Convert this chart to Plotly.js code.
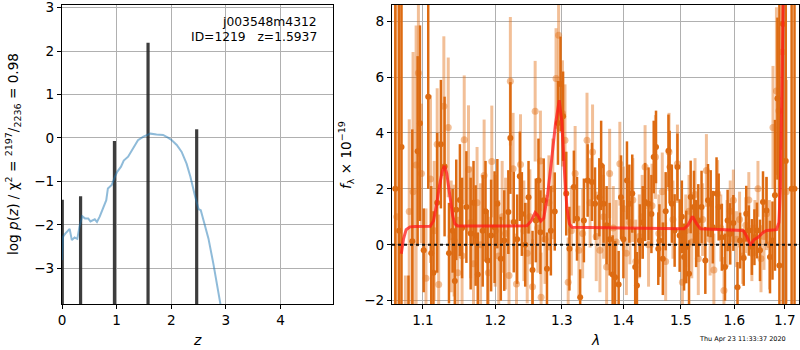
<!DOCTYPE html>
<html><head><meta charset="utf-8">
<script src="https://cdn.plot.ly/plotly-3.0.1.min.js"></script>
<style>html,body{margin:0;padding:0;background:#fff}#plot{width:800px;height:350px}</style>
</head><body><div id="plot"></div>
<script>
// ---------- left panel: log p(z) ----------
const zGrid = [0.0,0.02,0.06,0.14,0.18,0.23,0.28,0.32,0.37,0.42,0.48,0.52,0.60,0.64,0.69,0.75,0.81,0.84,0.91,0.97,1.01,1.08,1.13,1.21,1.30,1.39,1.49,1.55,1.62,1.73,1.85,1.94,2.01,2.10,2.19,2.28,2.35,2.43,2.50,2.54,2.60,2.68,2.77,2.86,2.91,2.98];
const logPz = [-2.81,-2.27,-2.2,-2.09,-2.35,-2.29,-2.32,-2.04,-1.80,-1.85,-1.85,-1.92,-1.87,-1.93,-1.81,-1.62,-1.43,-1.16,-1.08,-0.89,-0.78,-0.66,-0.52,-0.43,-0.24,-0.05,0.03,0.07,0.10,0.08,0.07,0.01,-0.05,-0.16,-0.32,-0.59,-0.89,-1.31,-1.64,-1.66,-1.97,-2.31,-2.89,-3.50,-3.82,-4.4];
const spikeZ = [0.005,0.34,0.96,1.575,2.465];
const spikeTop = [-1.42,-1.34,-0.07,2.19,0.20];
const spikeBase = -4.5;

// ---------- right panel: spectrum ----------
const lamD = [1.064,1.069,1.072,1.081,1.086,1.093,1.096,1.101,1.107,1.111,1.114,1.119,1.124,1.129,1.135,1.140,1.143,1.145,1.150,1.153,1.159,1.165,1.169,1.172,1.175,1.182,1.186,1.189,1.194,1.199,1.203,1.208,1.213,1.219,1.222,1.227,1.232,1.236,1.239,1.244,1.249,1.255,1.260,1.264,1.267,1.272,1.277,1.283,1.289,1.294,1.298,1.302,1.307,1.312,1.319,1.324,1.329,1.335,1.341,1.348,1.353,1.360,1.363,1.367,1.372,1.377,1.382,1.386,1.392,1.396,1.400,1.406,1.410,1.415,1.420,1.423,1.428,1.433,1.437,1.443,1.448,1.452,1.456,1.460,1.462,1.468,1.473,1.478,1.480,1.484,1.489,1.494,1.498,1.502,1.506,1.510,1.515,1.518,1.524,1.528,1.532,1.538,1.545,1.550,1.555,1.559,1.566,1.570,1.576,1.582,1.587,1.592,1.598,1.606,1.611,1.618,1.623,1.628,1.634,1.639,1.644,1.650,1.656,1.663,1.670,1.675,1.680,1.685,1.689,1.696,1.702,1.714,1.720];
const fluxD = [2.0,0.5,3.5,-3.0,0.13,3.35,4.35,-0.2,5.3,-0.3,-1.0,1.5,3.6,2.8,-0.3,0.5,-1.3,1.25,1.6,0.6,1.35,0.4,1.5,0.33,-1.06,0.5,1.2,-0.56,0.33,0.63,1.47,-0.5,0.15,1.17,3.82,0.81,0.2,2.45,1.1,0.0,1.7,-0.9,0.87,2.3,0.45,1.59,-0.86,0.5,1.19,4.36,5.75,4.6,1.83,-0.14,2.07,0.93,-1.88,0.87,2.3,2.25,1.47,1.7,2.84,1.47,0.7,0.2,-1.06,-1.16,-1.42,1.7,0.2,2.3,1.47,1.83,-0.8,-1.46,0.15,0.8,1.53,1.47,1.1,3.14,3.5,-0.14,0.15,-0.5,1.2,3.36,2.78,1.47,0.51,2.78,0.33,1.0,-0.44,-0.08,-1.04,1.71,1.35,0.4,0.87,1.35,-0.56,1.59,1.47,0.63,1.83,1.35,0.27,-0.8,0.87,0.39,0.78,-1.52,0.15,-0.47,1.11,0.51,-0.08,0.27,0.51,-0.2,1.53,1.23,-0.44,0.15,1.77,5.23,-0.74,7.9,3.0,2.0,2.0];
const errD = [15,15,15,1.9,4.0,3.4,3.5,1.5,3.3,2.4,2.2,2.5,2.3,2.5,1.8,1.5,1.8,1.8,2.0,1.8,2.0,2.0,1.5,1.8,1.5,2.0,1.8,1.8,2.0,2.0,1.6,1.5,1.8,1.5,2.0,1.8,1.6,1.6,1.5,1.5,1.3,1.4,1.5,1.5,1.5,1.5,1.3,1.6,1.4,1.5,1.7,1.6,1.5,1.5,1.3,1.5,1.0,1.5,1.3,1.4,1.3,1.4,1.6,1.4,1.4,1.3,1.4,1.3,1.2,1.5,1.4,1.4,1.4,1.4,1.4,1.2,1.3,1.3,1.4,1.3,1.4,1.3,1.3,1.3,1.3,1.3,1.4,1.3,1.3,1.4,1.3,1.2,1.3,1.3,1.2,1.3,1.2,1.3,1.3,1.2,1.3,1.3,1.2,1.3,1.2,1.3,1.3,1.2,1.2,1.2,1.1,1.1,1.0,0.9,1.0,1.0,1.0,0.9,1.0,1.0,1.0,1.1,1.1,1.2,1.3,1.4,2.7,2.9,12,12,12,12,12];

const lamL = [1.066,1.077,1.082,1.087,1.091,1.094,1.098,1.104,1.110,1.115,1.119,1.121,1.128,1.134,1.138,1.142,1.147,1.153,1.156,1.162,1.165,1.169,1.174,1.179,1.184,1.190,1.195,1.200,1.205,1.210,1.215,1.220,1.222,1.226,1.231,1.237,1.242,1.247,1.251,1.255,1.259,1.263,1.267,1.268,1.274,1.280,1.286,1.291,1.295,1.301,1.305,1.310,1.315,1.321,1.327,1.333,1.340,1.345,1.349,1.355,1.361,1.367,1.372,1.377,1.383,1.388,1.394,1.400,1.405,1.411,1.416,1.421,1.427,1.432,1.437,1.443,1.449,1.455,1.461,1.467,1.473,1.479,1.486,1.494,1.503,1.509,1.515,1.520,1.526,1.532,1.540,1.547,1.554,1.561,1.568,1.574,1.580,1.586,1.592,1.598,1.604,1.610,1.616,1.622,1.628,1.634,1.640,1.646,1.652,1.658,1.663,1.669,1.676,1.683,1.688,1.695,1.703];
const fluxL = [1.0,-2.8,1.19,1.9,2.85,6.15,2.55,-1.2,2.35,0.5,3.6,-1.42,4.96,4.2,0.3,0.15,-1.0,-0.39,3.76,2.69,0.8,-0.68,1.5,0.0,2.48,-1.0,2.98,0.5,-0.4,1.0,0.4,-1.1,5.85,2.72,-1.40,2.87,0.5,-0.3,1.0,-1.5,4.78,0.6,3.0,-1.88,0.2,1.5,2.0,5.95,7.5,4.7,3.74,-1.34,0.5,2.55,-0.2,0.4,3.74,1.5,3.32,0.3,-0.2,1.0,-0.8,2.55,0.6,0.1,2.9,1.3,-0.3,0.8,1.6,-0.6,0.3,1.0,2.78,0.0,1.4,3.14,0.4,1.9,-0.6,3.32,0.9,2.9,-1.34,0.5,1.2,0.1,1.8,-0.5,0.9,2.66,0.2,-0.9,1.83,0.6,-1.64,0.4,1.2,1.59,0.2,0.9,-0.4,0.7,1.6,-0.3,0.6,2.0,-0.5,0.3,1.11,0.0,4.2,5.5,4.8,6.9,1.9];
const errL = [15,1.7,3.3,5.0,5.0,3.0,2.5,2.5,3.0,2.5,2.0,2.5,2.5,2.5,2.0,2.0,2.0,2.0,2.3,2.3,2.0,2.2,2.0,2.2,2.0,2.0,2.0,2.0,2.0,2.0,2.0,2.0,2.3,2.0,1.8,1.8,1.8,1.8,1.7,1.7,1.8,1.6,1.8,1.6,1.6,1.7,1.8,1.8,1.8,1.9,2.0,1.6,1.6,1.7,1.6,1.6,1.7,1.6,1.7,1.6,1.5,1.5,1.5,1.6,1.5,1.5,1.5,1.5,1.5,1.5,1.5,1.5,1.5,1.5,1.5,1.5,1.5,1.5,1.4,1.4,1.4,1.4,1.4,1.4,1.3,1.3,1.3,1.3,1.3,1.3,1.3,1.3,1.3,1.3,1.2,1.2,1.2,1.2,1.1,1.1,1.0,1.0,1.0,1.0,1.0,1.0,1.0,1.0,1.2,1.2,1.3,1.6,2.2,3.0,3.0,3.5,4.0];

const lamModel = [1.0717,1.0745,1.0780,1.0830,1.0900,1.1000,1.1096,1.1140,1.1180,1.1220,1.1260,1.1289,1.1320,1.1360,1.1400,1.1430,1.1470,1.2000,1.2466,1.2530,1.2589,1.2630,1.2676,1.2720,1.2780,1.2840,1.2900,1.2960,1.3000,1.3040,1.3080,1.3120,1.3160,1.4000,1.5058,1.5130,1.5215,1.5290,1.5361,1.6171,1.6240,1.6315,1.6380,1.6464,1.6550,1.6631,1.6832,1.6880,1.6910,1.6948,1.6985,1.7010];
const fluxModel = [-0.32,0.2,0.54,0.64,0.65,0.65,0.66,0.85,1.4,2.1,2.65,2.82,2.55,1.8,1.05,0.75,0.67,0.67,0.68,0.85,1.15,1.05,0.85,0.95,1.8,3.0,4.3,5.17,4.4,2.7,1.3,0.75,0.63,0.6,0.57,0.7,1.01,0.75,0.57,0.51,0.3,-0.02,0.18,0.27,0.42,0.51,0.54,0.8,2.0,6.4,9.5,14];

const lamTicks = [1.1,1.2,1.3,1.4,1.5,1.6,1.7];
const lamTickText = ['1.1','1.2','1.3','1.4','1.5','1.6','1.7'];

// ---------- build ----------
const orangeDark = 'rgb(221,107,18)';
const orangeLight = 'rgba(226,112,24,0.45)';
const spikeX = [], spikeY = [];
spikeZ.forEach((z,i)=>{spikeX.push(z,z,null); spikeY.push(spikeBase, spikeTop[i], null);});

const traces = [
  {x: spikeX, y: spikeY, xaxis:'x', yaxis:'y', mode:'lines', line:{color:'rgba(40,40,40,0.9)', width:3.2}, hoverinfo:'skip', showlegend:false},
  {x: zGrid, y: logPz, xaxis:'x', yaxis:'y', mode:'lines', line:{color:'rgba(31,119,180,0.5)', width:2}, showlegend:false},
  {x: lamL, y: fluxL, xaxis:'x2', yaxis:'y2', mode:'markers', marker:{color:orangeLight, size:7},
   error_y:{type:'data', array:errL, visible:true, color:orangeLight, thickness:3, width:0}, showlegend:false},
  {x: lamD, y: fluxD, xaxis:'x2', yaxis:'y2', mode:'markers', marker:{color:orangeDark, size:6},
   error_y:{type:'data', array:errD, visible:true, color:orangeDark, thickness:2.5, width:0}, showlegend:false},
  {x: lamModel, y: fluxModel, xaxis:'x2', yaxis:'y2', mode:'lines', line:{color:'rgba(255,25,25,0.75)', width:3}, showlegend:false}
];

const fam = 'DejaVu Sans, sans-serif';
const tickFont = {family:fam, size:13.6, color:'#000'};
const axBase = {showline:true, mirror:true, linecolor:'#000', linewidth:1, ticks:'outside', ticklen:4, tickcolor:'#000',
  showgrid:true, gridcolor:'#b0b0b0', gridwidth:1, zeroline:false, automargin:false, tickfont:tickFont, ticklabeloverflow:'allow'};

const layout = {
  width:800, height:350, margin:{l:0,r:0,t:0,b:0}, paper_bgcolor:'#fff', plot_bgcolor:'#fff', font:{family:fam, size:12, color:'#000'}, showlegend:false,
  xaxis: Object.assign({}, axBase, {domain:[62/800, 333/800], range:[0,4.96], tickvals:[0,1,2,3,4], anchor:'y'}),
  yaxis: Object.assign({}, axBase, {domain:[1-304/350, 1-5/350], range:[-3.82,3.06], tickvals:[-3,-2,-1,0,1,2,3], anchor:'x'}),
  xaxis2: Object.assign({}, axBase, {domain:[392/800, 799/800], type:'log', range:[Math.log10(1.0598), Math.log10(1.7293)],
    tickvals:lamTicks, ticktext:lamTickText, anchor:'y2'}),
  yaxis2: Object.assign({}, axBase, {domain:[1-304/350, 1-5/350], range:[-2.12,8.58], tickvals:[-2,0,2,4,6,8], anchor:'x2'}),
  shapes:[{type:'line', xref:'x2 domain', yref:'y2', x0:0, x1:1, y0:0, y1:0, layer:'above', line:{color:'#111', width:2, dash:'dot'}}],
  annotations:[
    {text:'j003548m4312', xref:'paper', yref:'paper', x:319/800, y:1-22/350, xanchor:'right', yanchor:'middle', showarrow:false, font:{family:fam,size:12.3,color:'#000'}},
    {text:'ID=1219   z=1.5937', xref:'paper', yref:'paper', x:319/800, y:1-37/350, xanchor:'right', yanchor:'middle', showarrow:false, font:{family:fam,size:12.3,color:'#000'}},
    {text:'log <i>p</i>(<i>z</i>) / χ<sup>2</sup> = <sup>2197</sup>/<sub>2236</sub> = 0.98', xref:'paper', yref:'paper', x:13/800, y:1-154/350, xanchor:'center', yanchor:'middle', textangle:-90, showarrow:false, font:{family:fam,size:13.6,color:'#000'}},
    {text:'<i>f</i><sub>λ</sub> × 10<sup>−19</sup>', xref:'paper', yref:'paper', x:346/800, y:1-155/350, xanchor:'center', yanchor:'middle', textangle:-90, showarrow:false, font:{family:fam,size:13.6,color:'#000'}},
    {text:'<i>z</i>', xref:'paper', yref:'paper', x:197/800, y:1-340/350, xanchor:'center', yanchor:'middle', showarrow:false, font:{family:fam,size:14,color:'#000'}},
    {text:'<i>λ</i>', xref:'paper', yref:'paper', x:595/800, y:1-340/350, xanchor:'center', yanchor:'middle', showarrow:false, font:{family:fam,size:14,color:'#000'}},
    {text:'Thu Apr 23 11:33:37 2020', xref:'paper', yref:'paper', x:788/800, y:1-339/350, xanchor:'right', yanchor:'middle', showarrow:false, font:{family:fam,size:6.5,color:'#000'}}
  ]
};

Plotly.newPlot('plot', traces, layout, {staticPlot:true, displayModeBar:false});
</script>
</body></html>
